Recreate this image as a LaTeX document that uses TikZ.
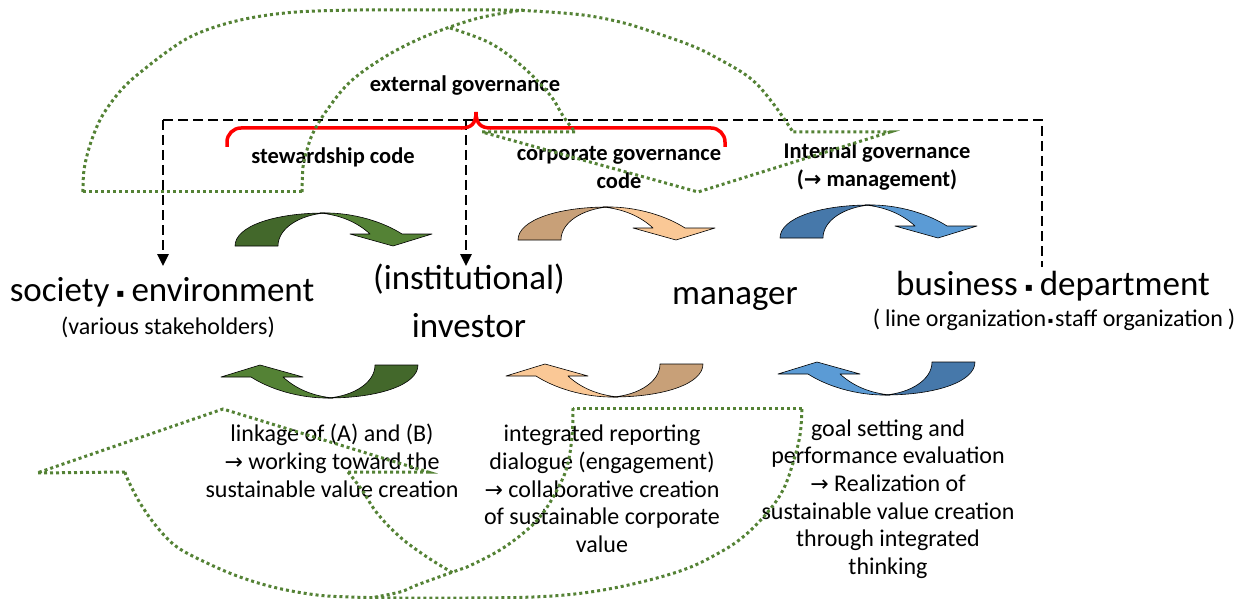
\documentclass[tikz,border=0pt]{standalone}
\usepackage{fontspec}
\setmainfont{Carlito}
\newfontfamily\dejavu{DejaVu Sans}
\usetikzlibrary{arrows.meta}
\definecolor{dgreen}{RGB}{67,104,43}
\definecolor{lgreen}{RGB}{84,130,53}
\definecolor{dtan}{RGB}{200,160,120}
\definecolor{ltan}{RGB}{250,200,150}
\definecolor{dblue}{RGB}{70,120,170}
\definecolor{lblue}{RGB}{91,155,213}
\definecolor{dotgreen}{RGB}{84,130,53}
\newcommand{\arr}{{\dejavu\fontsize{22}{22}\selectfont →}}
\newcommand{\arrb}{{\dejavu\bfseries\fontsize{21}{21}\selectfont →}}
\newcommand{\bigsep}{\makebox[22pt]{\raisebox{4pt}{\dejavu\fontsize{12}{12}\selectfont ▪}}}
\newcommand{\smallsep}{\makebox[9pt]{\raisebox{3pt}{\dejavu\fontsize{8}{8}\selectfont ▪}}}
\newcommand{\curvarrow}[4]{%
  \begin{scope}[shift={#1}, rotate=#2]
    \draw[arrowout, fill=#3] (0,0) .. controls (0,-20) and (40,-33) .. (90,-33)
      .. controls (65,-31) and (43,-18) .. (43,0) -- cycle;
    \draw[arrowout, fill=#4] (85,-33) .. controls (120,-34) and (150,-23) .. (167,-12)
      -- (197,-12) -- (158,0) -- (115,-12) -- (135,-12)
      .. controls (122,-24) and (105,-31) .. (85,-33) -- cycle;
  \end{scope}}
\tikzset{
  dashline/.style={line width=2.5pt, dash pattern=on 10pt off 5pt},
  dotline/.style={draw=dotgreen, line width=3pt, dash pattern=on 3pt off 3pt},
  arrowout/.style={draw=black, line width=0.6pt, line join=round},
  bigtxt/.style={inner sep=0pt, align=center, font=\fontsize{35}{48}\selectfont},
  midtxt/.style={inner sep=0pt, align=center, font=\fontsize{24}{27.7}\selectfont},
  labtxt/.style={inner sep=0pt, align=center, font=\bfseries\fontsize{22.5}{28}\selectfont},
  tip/.style={-{Triangle[length=12pt,width=11pt]}},
}
\begin{document}
\begin{tikzpicture}[x=1pt,y=-1pt]
\useasboundingbox (0,0) rectangle (1243,599);

% labels
\node[labtxt] (ext) at (465,86) {external governance};
\node[labtxt] (stew) at (333,157) {stewardship code};
\node[labtxt] (cgc) at (619,167) {corporate governance\\code};
\node[labtxt] (igov) at (877,167) {Internal governance\\(\arrb\ management)};

% actors
\node[bigtxt] (soc) at (162,292) {society\bigsep environment};
\node[midtxt] (soc2) at (168,327) {(various stakeholders)};
\node[bigtxt] (inv) at (469,301) {(institutional)\\investor};
\node[bigtxt] (man) at (735,299) {manager};
\node[bigtxt] (biz) at (1053,286) {business\bigsep department};
\node[midtxt] (biz2) at (1054,320) {(\hspace{5pt}line organization\smallsep staff organization\hspace{5pt})};

% bottom descriptions
\node[midtxt] (tA) at (332,461) {linkage of (A) and (B)\\\arr\ working toward the\\sustainable value creation};
\node[midtxt] (tB) at (602,489) {integrated reporting\\dialogue (engagement)\\\arr\ collaborative creation\\of sustainable corporate\\value};
\node[midtxt] (tC) at (888,499) {goal setting and\\performance evaluation\\\arr\ Realization of\\sustainable value creation\\through integrated\\thinking};

% dashed governance connectors
\coordinate (gL) at (163,120);
\coordinate (gM) at (466,120);
\coordinate (gR) at (1042,120);
\coordinate (tipSoc) at (163,266);
\coordinate (tipInv) at (466,266);
\coordinate (endBiz) at (1042,267);
\draw[dashline] (gL) -- (gR) -- (endBiz);
\draw[dashline, tip] (gL) -- (tipSoc);
\draw[dashline, tip] (gM) -- (tipInv);

% red brace
\draw[red, line width=3.5pt, rounded corners=14pt] (227,147) |- (462,128);
\draw[red, line width=3.5pt] (461,128) .. controls (471,128) and (476,124) .. (476,112)
   .. controls (476,124) and (481,128) .. (491,128);
\draw[red, line width=3.5pt, rounded corners=14pt] (490,128) -| (725,147);

% curved solid arrows
\curvarrow{(235,246)}{0}{dgreen}{lgreen}
\curvarrow{(518,240)}{0}{dtan}{ltan}
\curvarrow{(780,238)}{0}{dblue}{lblue}
\curvarrow{(418,365)}{180}{dgreen}{lgreen}
\curvarrow{(703,364)}{180}{dtan}{ltan}
\curvarrow{(975,362)}{180}{dblue}{lblue}

% top dotted curved arrow outline
\draw[dotline] (83,192) -- (302,192);
\draw[dotline] plot[smooth, tension=0.6] coordinates {(83,192) (84,170) (90,145) (100,120) (113,100) (128,83) (147,67) (168,51) (190,37) (218,26) (250,18) (285,13) (317,11) (360,10) (400,10) (450,10) (500,10) (533,11) (583,15) (620,22) (650,31) (690,45) (717,58) (750,78) (772,102) (793,132)};
\draw[dotline] plot[smooth, tension=0.6] coordinates {(302,192) (303,167) (307,150) (313,133) (327,110) (350,82) (383,58) (417,40) (450,27) (483,17) (523,10)};
\draw[dotline] plot[smooth, tension=0.6] coordinates {(450,28) (490,43) (523,67) (550,95) (563,116) (575,132)};
\draw[dotline] (575,132) -- (482,132) -- (698,192) -- (890,132) -- (793,132);

% bottom dotted curved arrow outline
\draw[dotline] (125,472) -- (37,473) -- (223,409) -- (428,472) -- (348,472);
\draw[dotline] plot[smooth, tension=0.6] coordinates {(125,472) (128,480) (140,503) (157,527) (177,547) (207,563) (240,577) (277,588) (317,595) (350,597) (400,598) (467,598) (533,597) (583,593) (633,584) (683,570) (717,554) (743,537) (767,513) (783,490) (793,463) (800,435) (802,408)};
\draw[dotline] (802,408) -- (573,408);
\draw[dotline] plot[smooth, tension=0.6] coordinates {(573,408) (572,437) (567,467) (557,490) (543,513) (527,530) (500,550) (467,567) (450,573) (417,585) (400,592) (370,598)};
\draw[dotline] plot[smooth, tension=0.6] coordinates {(348,472) (362,490) (377,513) (400,537) (427,557) (453,573)};
\end{tikzpicture}
\end{document}
